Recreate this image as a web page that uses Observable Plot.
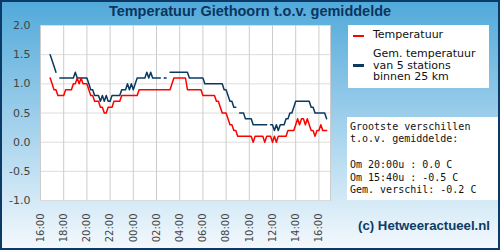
<!DOCTYPE html>
<html>
<head>
<meta charset="utf-8">
<script src="https://cdn.jsdelivr.net/npm/d3@7"></script>
<script src="https://cdn.jsdelivr.net/npm/@observablehq/plot@0.6"></script>
<style>
  html, body { margin: 0; padding: 0; }
  #wrap { position: relative; width: 500px; height: 250px; overflow: hidden;
    background: linear-gradient(to bottom, #50a9da 0%, #f4f9fd 100%); }
  #border { position: absolute; left: 0; top: 0; width: 500px; height: 250px; box-sizing: border-box;
    border: 2px solid #0b3a66; pointer-events: none; }
  #chart { position: absolute; left: 0; top: 0; }
  #title { position: absolute; left: 0; top: 3px; width: 500px; text-align: center;
    font: bold 14.5px "Liberation Sans", Arial, sans-serif; line-height: 17px; color: #0a3560; }
  #legend { position: absolute; left: 348px; top: 25px; width: 141px; height: 63px; background: #fff;
    font: 11px "DejaVu Sans", sans-serif; color: #111; }
  #legend .sw { position: absolute; left: 5px; width: 11px; height: 2.5px; }
  #legend .tx { position: absolute; left: 25px; line-height: 11.5px; white-space: nowrap; }
  #info { position: absolute; left: 347px; top: 117px; width: 153px; height: 83px; background: #fff;
    font: 10px "DejaVu Sans Mono", monospace; color: #111; line-height: 12.8px; white-space: pre;
    box-sizing: border-box; padding: 3.5px 0 0 3px; }
  #caption { position: absolute; right: 10px; top: 218px; font: bold 13.2px "Liberation Sans", Arial, sans-serif;
    line-height: 16px; color: #0d3b66; }
</style>
</head>
<body>
<div id="wrap">
  <div id="chart"></div>
  <div id="title"></div>
  <div id="legend"></div>
  <div id="info"></div>
  <div id="caption"></div>
  <div id="border"></div>
</div>
<script>
// ---- data ----
const titleText = "Temperatuur Giethoorn t.o.v. gemiddelde";
const startMinutes = 50;   // first sample 16:50 (minutes after 16:00)
const stepMinutes = 10;
const xTicks = [0, 2, 4, 6, 8, 10, 12, 14, 16, 18, 20, 22, 24];
const xTickLabels = ["16:00","18:00","20:00","22:00","00:00","02:00","04:00","06:00","08:00","10:00","12:00","14:00","16:00"];
const yTicks = [-1, -0.5, 0, 0.5, 1, 1.5, 2];
const seriesNames = ["Temperatuur", "Gem. temperatuur\nvan 5 stations\nbinnen 25 km"];
const seriesColors = ["#ff0000", "#0a3a60"];

const temperatuur = [
  1.1,1.0,0.9,0.9,0.8,0.8,0.8,0.8,0.9,0.9,0.9,0.9,
  1.0,1.0,1.1,1.0,1.1,1.0,1.0,1.0,0.9,0.8,0.8,0.7,
  0.7,0.7,0.6,0.6,0.5,0.5,0.6,0.6,0.6,0.7,0.7,0.7,
  0.7,0.8,0.8,0.8,0.8,0.8,0.8,0.8,0.8,0.8,0.9,0.9,
  0.9,0.9,0.9,0.9,0.9,0.9,0.9,0.9,0.9,0.9,0.9,0.9,
  0.9,0.9,0.9,1.0,1.1,1.1,1.1,1.1,1.1,1.1,1.1,0.9,
  0.9,0.9,0.9,0.9,0.9,0.9,0.9,0.8,0.8,0.8,0.8,0.8,
  0.8,0.8,0.7,0.7,0.6,0.5,0.5,0.5,0.4,0.3,0.3,0.2,
  0.2,0.1,0.1,0.1,0.1,0.1,0.1,0.1,0.1,0.0,0.1,0.1,
  0.1,0.1,0.1,0.0,0.1,0.1,0.1,0.0,0.1,0.0,0.1,0.1,
  0.1,0.1,0.1,0.2,0.2,0.2,0.2,0.3,0.4,0.3,0.4,0.4,
  0.3,0.4,0.3,0.2,0.2,0.1,0.2,0.2,0.3,0.2,0.2,0.2
];
const gemiddelde = [
  1.5,1.4,1.3,1.2,null,1.1,1.1,1.1,1.1,1.1,1.1,1.1,
  1.1,1.2,1.1,1.1,1.1,1.1,1.1,1.1,1.0,0.9,0.9,0.8,
  0.8,0.8,0.7,0.8,0.7,0.8,0.7,0.7,0.8,0.8,0.8,0.8,
  0.8,0.9,0.9,0.9,1.0,0.9,1.0,0.9,1.0,1.1,1.1,1.1,
  1.1,1.1,1.2,1.1,1.2,1.1,1.1,1.1,1.1,1.1,null,1.1,
  1.1,null,1.2,1.2,1.2,1.2,1.2,1.2,1.2,1.2,1.2,1.2,
  1.1,1.1,1.1,1.1,1.1,1.1,1.1,1.1,1.0,1.0,1.0,1.0,
  1.0,1.0,1.0,1.0,1.0,1.0,0.9,0.9,0.8,0.7,0.7,0.6,
  0.6,null,0.5,0.5,0.5,0.4,0.4,0.4,0.4,0.3,0.3,0.3,
  0.3,0.3,0.3,0.3,0.3,null,0.3,0.3,0.2,0.3,0.2,0.3,
  0.3,0.3,0.4,0.4,0.5,0.5,0.6,0.7,0.7,0.7,0.7,0.7,
  0.7,0.7,0.7,0.6,0.6,0.5,0.5,0.5,0.5,0.5,0.5,0.4
];
const infoLines = [
  "Grootste verschillen",
  "t.o.v. gemiddelde:",
  "",
  "Om 20:00u : 0.0 C",
  "Om 15:40u : -0.5 C",
  "Gem. verschil: -0.2 C"
];
const captionText = "(c) Hetweeractueel.nl";

// ---- build ----
const data = temperatuur.map((v, i) => ({
  h: (startMinutes + i * stepMinutes) / 60,
  temp: v,
  gem: gemiddelde[i]
}));

const chart = Plot.plot({
  width: 500,
  height: 250,
  marginLeft: 40,
  marginRight: 170,
  marginTop: 25,
  marginBottom: 50,
  style: { background: "transparent", color: "#444", fontFamily: "DejaVu Sans, sans-serif" },
  x: { type: "linear", domain: [0, 25] },
  y: { domain: [-1, 2] },
  marks: [
    Plot.frame({ fill: "#ffffff", stroke: "#cccccc" }),
    Plot.gridY(yTicks, { stroke: "#dddddd", strokeOpacity: 1 }),
    Plot.gridX(xTicks, { stroke: "#cccccc", strokeOpacity: 1 }),
    Plot.axisY(yTicks, { tickSize: 0, tickPadding: 10, fontSize: 11, tickFormat: d => d.toFixed(1), label: null }),
    Plot.axisX(xTicks, { tickSize: 0, tickPadding: 13, fontSize: 10, tickRotate: -90,
      tickFormat: d => xTickLabels[xTicks.indexOf(d)], label: null }),
    Plot.line(data, { x: "h", y: "gem", stroke: seriesColors[1], strokeWidth: 1.5 }),
    Plot.line(data, { x: "h", y: "temp", stroke: seriesColors[0], strokeWidth: 1.5 })
  ]
});
document.getElementById("chart").appendChild(chart);

document.getElementById("title").textContent = titleText;

const legend = document.getElementById("legend");
const tops = [4, 23];
const swTops = [9.5, 39];
seriesNames.forEach((name, k) => {
  const sw = document.createElement("div");
  sw.className = "sw";
  sw.style.top = swTops[k] + "px";
  sw.style.background = seriesColors[k];
  legend.appendChild(sw);
  const tx = document.createElement("div");
  tx.className = "tx";
  tx.style.top = tops[k] + "px";
  tx.innerHTML = name.split("\n").join("<br>");
  legend.appendChild(tx);
});

document.getElementById("info").textContent = infoLines.join("\n");
document.getElementById("caption").textContent = captionText;
</script>
</body>
</html>
